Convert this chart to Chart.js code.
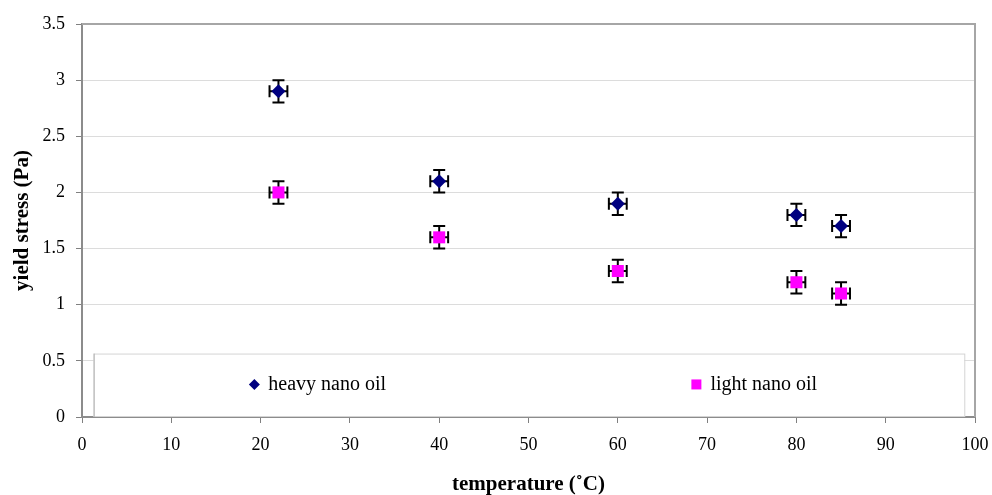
<!DOCTYPE html>
<html>
<head>
<meta charset="utf-8">
<script src="https://cdn.jsdelivr.net/npm/chart.js@4.4.0/dist/chart.umd.min.js"></script>
<style>
  html, body { margin: 0; padding: 0; background: #ffffff; }
  #wrap { width: 992px; height: 495px; position: relative; }
</style>
</head>
<body>
<div id="wrap"><canvas id="c" width="992" height="495"></canvas></div>
<script>
const temperatures = [22, 40, 60, 80, 85];
const heavyValues = [2.9, 2.1, 1.9, 1.8, 1.7];
const lightValues = [2.0, 1.6, 1.3, 1.2, 1.1];
const heavyYErr = [0.1, 0.1, 0.1, 0.1, 0.1];
const lightYErr = [0.1, 0.1, 0.1, 0.1, 0.1];
const xErr = [1, 1, 1, 1, 1];
const seriesNames = ['heavy nano oil', 'light nano oil'];
const yTitle = 'yield stress (Pa)';
const xTitle = 'temperature (˚C)';

const serif = '"Liberation Serif", "Times New Roman", serif';

function pts(xs, ys) { return xs.map((x, i) => ({ x: x, y: ys[i] })); }

const errorBars = {
  id: 'errorBars',
  beforeDatasetsDraw(chart) {
    const ctx = chart.ctx;
    const xs = chart.scales.x, ys = chart.scales.y;
    // legend box inside plot area
    const lx1 = xs.getPixelForValue(1.3), lx2 = xs.getPixelForValue(98.8);
    const ly1 = ys.getPixelForValue(0.565), ly2 = ys.getPixelForValue(0);
    ctx.save();
    ctx.fillStyle = '#ffffff';
    ctx.fillRect(lx1, ly1, lx2 - lx1, ly2 - ly1);
    ctx.strokeStyle = '#d4d4d4';
    ctx.lineWidth = 1;
    ctx.strokeRect(lx1 + 0.5, ly1 + 0.5, lx2 - lx1, ly2 - ly1 - 1);
    ctx.strokeStyle = '#b0b0b0';
    ctx.beginPath(); ctx.moveTo(lx1 + 0.5, ly1); ctx.lineTo(lx1 + 0.5, ly2); ctx.stroke();
    // legend items
    ctx.font = '20px ' + serif;
    ctx.textBaseline = 'middle';
    const legY = ys.getPixelForValue(0.29);
    const hx = xs.getPixelForValue(19.3);
    ctx.fillStyle = '#000080';
    ctx.beginPath();
    ctx.moveTo(hx, legY - 5.5); ctx.lineTo(hx + 5.5, legY); ctx.lineTo(hx, legY + 5.5); ctx.lineTo(hx - 5.5, legY);
    ctx.closePath(); ctx.fill();
    ctx.fillStyle = '#000000';
    ctx.fillText(seriesNames[0], hx + 14, legY);
    const sx = xs.getPixelForValue(68.8);
    ctx.fillStyle = '#ff00ff';
    ctx.fillRect(sx - 5, legY - 5, 10, 10);
    ctx.fillStyle = '#000000';
    ctx.fillText(seriesNames[1], sx + 14, legY);

    // error bars
    const sets = [[heavyValues, heavyYErr], [lightValues, lightYErr]];
    ctx.strokeStyle = '#000000';
    ctx.lineWidth = 2;
    const cap = 6;
    sets.forEach(([vals, errs]) => {
      temperatures.forEach((t, i) => {
        const cx = xs.getPixelForValue(t), cy = ys.getPixelForValue(vals[i]);
        const yTop = ys.getPixelForValue(vals[i] + errs[i]);
        const yBot = ys.getPixelForValue(vals[i] - errs[i]);
        const xL = xs.getPixelForValue(t - xErr[i]);
        const xR = xs.getPixelForValue(t + xErr[i]);
        ctx.beginPath();
        ctx.moveTo(cx, yTop); ctx.lineTo(cx, yBot);
        ctx.moveTo(cx - cap, yTop); ctx.lineTo(cx + cap, yTop);
        ctx.moveTo(cx - cap, yBot); ctx.lineTo(cx + cap, yBot);
        ctx.moveTo(xL, cy); ctx.lineTo(xR, cy);
        ctx.moveTo(xL, cy - cap); ctx.lineTo(xL, cy + cap);
        ctx.moveTo(xR, cy - cap); ctx.lineTo(xR, cy + cap);
        ctx.stroke();
      });
    });
    ctx.restore();
  },
  afterDraw(chart) {
    const ctx = chart.ctx, ca = chart.chartArea;
    ctx.save();
    ctx.strokeStyle = '#a6a6a6';
    ctx.lineWidth = 2;
    ctx.beginPath();
    ctx.moveTo(ca.left, ca.top); ctx.lineTo(ca.right, ca.top); ctx.lineTo(ca.right, ca.bottom);
    ctx.stroke();
    ctx.restore();
  }
};

new Chart(document.getElementById('c'), {
  type: 'scatter',
  data: {
    datasets: [
      {
        label: seriesNames[0],
        data: pts(temperatures, heavyValues),
        pointStyle: 'rectRot',
        pointRadius: 7,
        pointHoverRadius: 7,
        backgroundColor: '#000080',
        borderColor: '#000080',
        borderWidth: 0
      },
      {
        label: seriesNames[1],
        data: pts(temperatures, lightValues),
        pointStyle: 'rect',
        pointRadius: 8.5,
        pointHoverRadius: 8.5,
        backgroundColor: '#ff00ff',
        borderColor: '#ff00ff',
        borderWidth: 0
      }
    ]
  },
  options: {
    responsive: false,
    animation: false,
    events: [],
    layout: { padding: { left: 0, right: 17, top: 24, bottom: 0 } },
    plugins: {
      legend: { display: false },
      tooltip: { enabled: false }
    },
    scales: {
      x: {
        type: 'linear',
        min: 0, max: 100,
        afterFit(scale) { scale.height = 78; scale.paddingLeft = 0; scale.paddingRight = 0; },
        ticks: { stepSize: 10, color: '#000000', font: { family: serif, size: 18 }, padding: 11, maxRotation: 0 },
        grid: { drawOnChartArea: false, drawTicks: true, tickLength: 6, color: '#808080', lineWidth: 1 },
        border: { color: '#8c8c8c', width: 2 },
        title: { display: true, text: xTitle, color: '#000000', font: { family: serif, size: 21, weight: 'bold', lineHeight: 1 }, padding: { top: 0, bottom: 0 } }
      },
      y: {
        type: 'linear',
        min: 0, max: 3.5,
        afterFit(scale) { scale.width = 82; scale.paddingTop = 0; scale.paddingBottom = 0; },
        ticks: { stepSize: 0.5, color: '#000000', font: { family: serif, size: 18 }, padding: 11,
          callback: (v) => String(Math.round(v * 10) / 10) },
        grid: {
          drawTicks: true, tickLength: 6,
          color: '#dcdcdc', lineWidth: 1,
          tickColor: '#808080'
        },
        border: { color: '#8c8c8c', width: 2 },
        title: { display: true, text: yTitle, color: '#000000', font: { family: serif, size: 21, weight: 'bold', lineHeight: 1 }, padding: { top: 12, bottom: 0 } }
      }
    }
  },
  plugins: [errorBars]
});
</script>
</body>
</html>
